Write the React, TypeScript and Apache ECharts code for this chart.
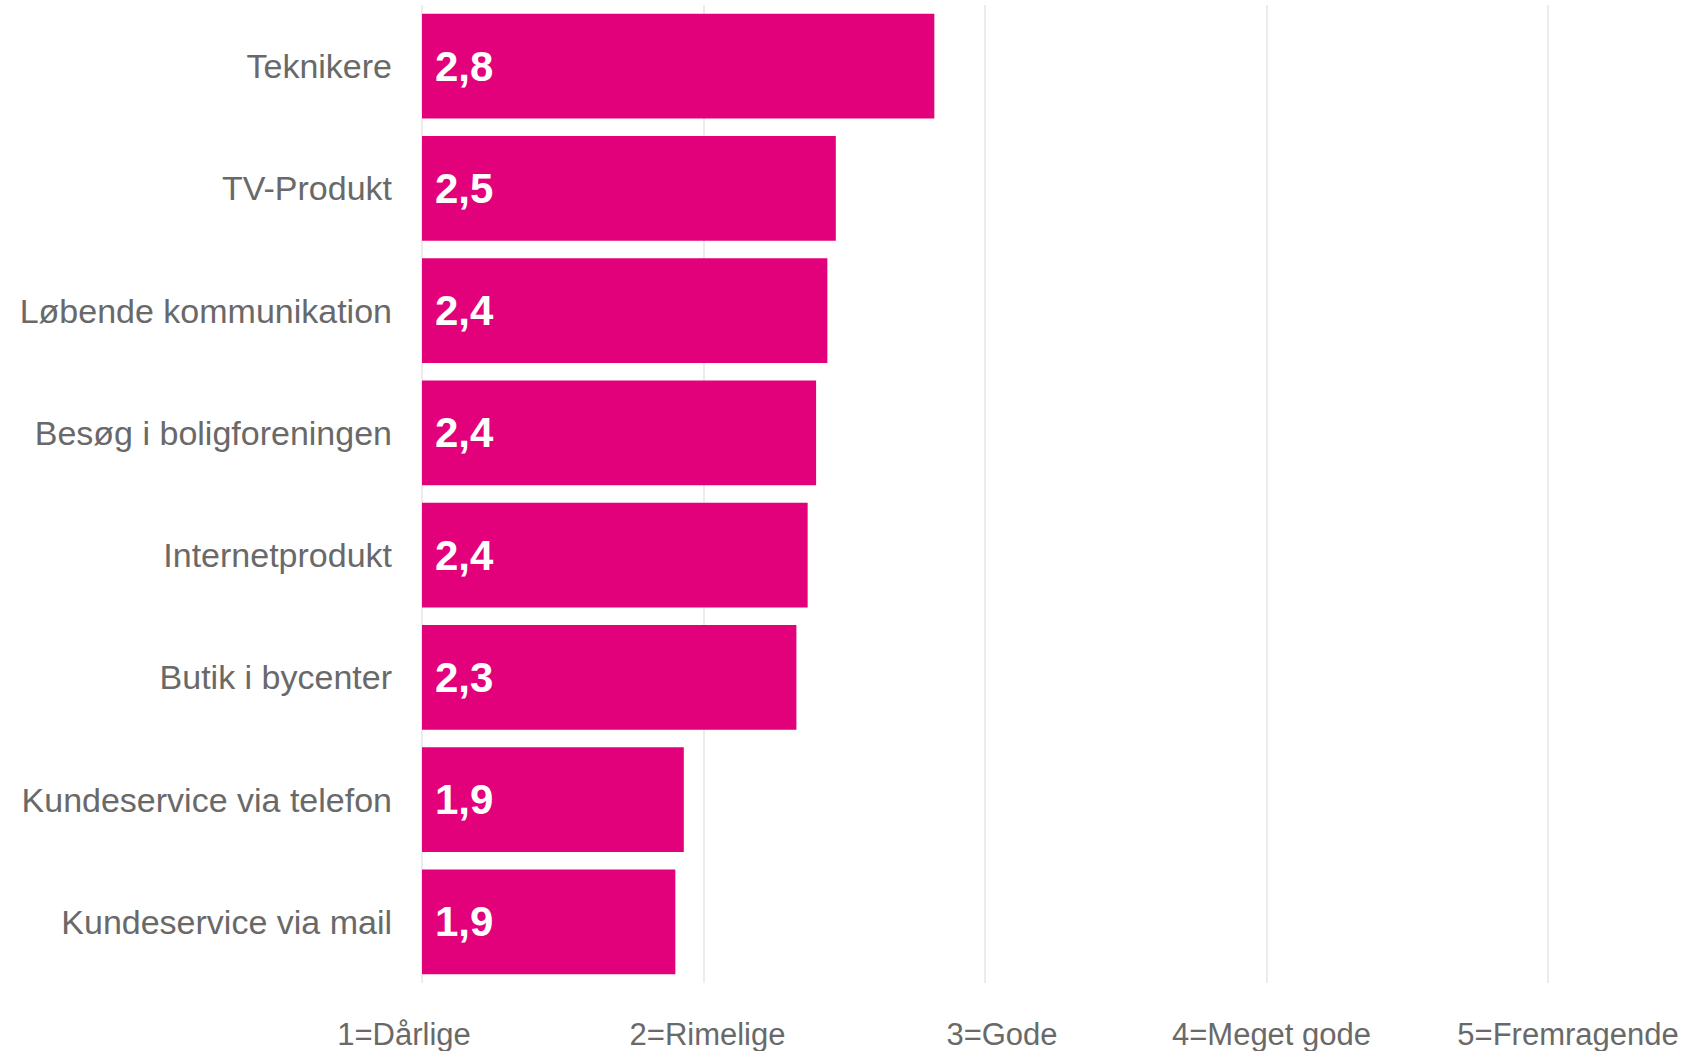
import React, { useEffect, useRef } from "react";
import * as echarts from "echarts";

const categories = [
  "Teknikere",
  "TV-Produkt",
  "Løbende kommunikation",
  "Besøg i boligforeningen",
  "Internetprodukt",
  "Butik i bycenter",
  "Kundeservice via telefon",
  "Kundeservice via mail",
];
const values = [2.82, 2.47, 2.44, 2.4, 2.37, 2.33, 1.93, 1.9];
const tickValues = [1, 2, 3, 4, 5];
const tickLabels = ["1=Dårlige", "2=Rimelige", "3=Gode", "4=Meget gode", "5=Fremragende"];
// horizontal nudge of each tick label (px) to match the reference placement
const tickNudge = [-18, 4, 17, 5, 20];

const FONT = "'Liberation Sans', Arial, Helvetica, sans-serif";
const GRAY = "#696969";
const MAGENTA = "#E3007B";

export default function App() {
  const ref = useRef<HTMLDivElement>(null);

  useEffect(() => {
    if (!ref.current) return;
    const chart = echarts.init(ref.current, undefined, { renderer: "svg" });

    const rich: Record<string, any> = {};
    tickLabels.forEach((_, i) => {
      const d = tickNudge[i];
      rich["t" + i] = {
        fontSize: 31,
        fontFamily: FONT,
        color: GRAY,
        padding: d < 0 ? [0, -2 * d, 0, 0] : [0, 0, 0, 2 * d],
      };
    });

    chart.setOption({
      animation: false,
      backgroundColor: "#ffffff",
      grid: { left: 422, right: 141, top: 5, bottom: 68, containLabel: false },
      xAxis: {
        type: "value",
        min: 1,
        max: 5,
        interval: 1,
        axisLine: { show: false },
        axisTick: { show: false },
        splitLine: { show: true, lineStyle: { color: "#e6e6e6", width: 1.5 } },
        axisLabel: {
          margin: 36,
          fontSize: 31,
          fontFamily: FONT,
          color: GRAY,
          formatter: (v: number) => {
            const i = tickValues.indexOf(v);
            return i >= 0 ? `{t${i}|${tickLabels[i]}}` : "";
          },
          rich,
        },
      },
      yAxis: {
        type: "category",
        data: categories,
        inverse: true,
        axisLine: { show: false },
        axisTick: { show: false },
        splitLine: { show: false },
        axisLabel: {
          margin: 30,
          fontSize: 34,
          fontFamily: FONT,
          color: GRAY,
        },
      },
      series: [
        {
          type: "bar",
          data: values,
          barCategoryGap: "14.4%",
          itemStyle: { color: MAGENTA },
          label: {
            show: true,
            position: "insideLeft",
            distance: 13,
            color: "#ffffff",
            fontSize: 42,
            fontWeight: "bold",
            fontFamily: FONT,
            formatter: (p: any) => Number(p.value).toFixed(1).replace(".", ","),
          },
        },
      ],
    });

    return () => chart.dispose();
  }, []);

  return (
    <div
      ref={ref}
      style={{ position: "fixed", left: 0, top: 0, width: 1689, height: 1051, background: "#fff" }}
    />
  );
}
